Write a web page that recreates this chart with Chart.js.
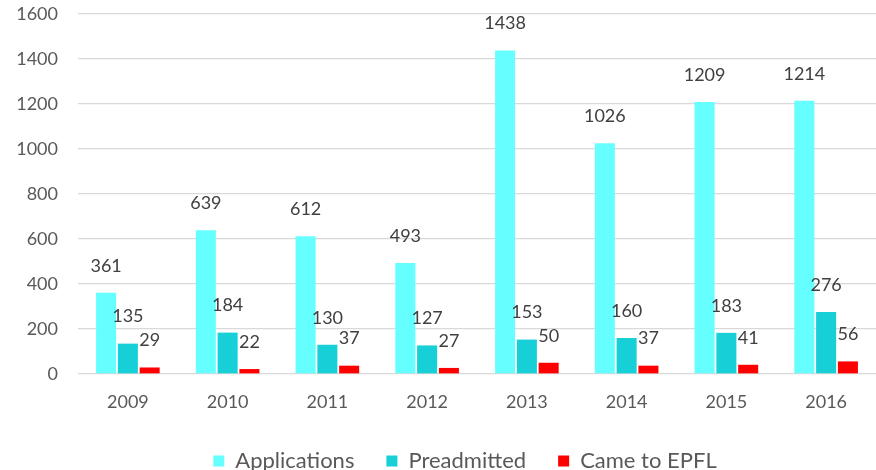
<!DOCTYPE html>
<html>
<head>
<meta charset="utf-8">
<script src="https://cdn.jsdelivr.net/npm/chart.js@4"></script>
<style>
  html, body { margin: 0; padding: 0; background: #ffffff; }
  #wrap { width: 876px; height: 470px; }
</style>
</head>
<body>
<div id="wrap"><canvas id="chart" width="876" height="470"></canvas></div>
<script>
// Admissions by year
const years = ['2009', '2010', '2011', '2012', '2013', '2014', '2015', '2016'];
const applications = [361, 639, 612, 493, 1438, 1026, 1209, 1214];
const preadmitted = [135, 184, 130, 127, 153, 160, 183, 276];
const cameToEPFL = [29, 22, 37, 27, 50, 37, 41, 56];
const yTicks = [0, 200, 400, 600, 800, 1000, 1200, 1400, 1600];

const FONT = 'Lato, "Noto Sans", sans-serif';
const CANVAS_H = 470;
const PAD_BOTTOM = -12;
const PLOT_TOP = 14;
const PLOT_BOTTOM = 374;
const LEGEND_SHIFT = 27;

// Writes each bar's value above its top
const valueLabels = {
  id: 'valueLabels',
  afterDatasetsDraw(chart) {
    const ctx = chart.ctx;
    ctx.save();
    ctx.font = '18px ' + FONT;
    ctx.fillStyle = '#404040';
    ctx.textAlign = 'center';
    ctx.textBaseline = 'middle';
    chart.data.datasets.forEach((ds, i) => {
      const meta = chart.getDatasetMeta(i);
      meta.data.forEach((bar, j) => {
        ctx.fillText(String(ds.data[j]), bar.x, bar.y - 27);
      });
    });
    ctx.restore();
  }
};

// Moves the legend row slightly right of the canvas centre
const legendOffset = {
  id: 'legendOffset',
  afterLayout(chart) {
    const lg = chart.legend;
    if (lg) {
      lg.left += LEGEND_SHIFT;
      lg.right += LEGEND_SHIFT;
    }
  }
};

new Chart(document.getElementById('chart'), {
  type: 'bar',
  data: {
    labels: years,
    datasets: [
      { label: 'Applications', data: applications, backgroundColor: '#66FFFF' },
      { label: 'Preadmitted', data: preadmitted, backgroundColor: '#17CFD7' },
      { label: 'Came to EPFL', data: cameToEPFL, backgroundColor: '#FF0000' }
    ]
  },
  options: {
    responsive: false,
    animation: false,
    layout: { padding: { top: PLOT_TOP, right: 0, left: 0, bottom: PAD_BOTTOM } },
    datasets: {
      bar: { categoryPercentage: 0.655, barPercentage: 0.92, borderWidth: 0 }
    },
    scales: {
      x: {
        afterFit(scale) {
          scale.paddingLeft = 0;
          scale.paddingRight = 0;
          const lg = scale.chart.legend;
          if (lg && lg.height) {
            scale.height = (CANVAS_H - PAD_BOTTOM - lg.height) - PLOT_BOTTOM;
          }
        },
        grid: { display: false, drawTicks: false },
        border: { display: false },
        ticks: { color: '#595959', font: { family: FONT, size: 18 }, padding: 17 }
      },
      y: {
        min: 0,
        max: 1600,
        afterBuildTicks(scale) { scale.ticks = yTicks.map(v => ({ value: v })); },
        afterFit(scale) {
          scale.width = 78;
          scale.paddingTop = 0;
          scale.paddingBottom = 0;
        },
        grid: { color: '#d9d9d9', lineWidth: 1.3, drawTicks: false },
        border: { display: false },
        ticks: {
          color: '#595959',
          font: { family: FONT, size: 18 },
          padding: 20,
          callback: v => String(v)
        }
      }
    },
    plugins: {
      tooltip: { enabled: false },
      legend: {
        position: 'bottom',
        labels: {
          color: '#595959',
          font: { family: FONT, size: 22 },
          boxWidth: 11,
          boxHeight: 11,
          padding: 32
        }
      }
    }
  },
  plugins: [valueLabels, legendOffset]
});
</script>
</body>
</html>
